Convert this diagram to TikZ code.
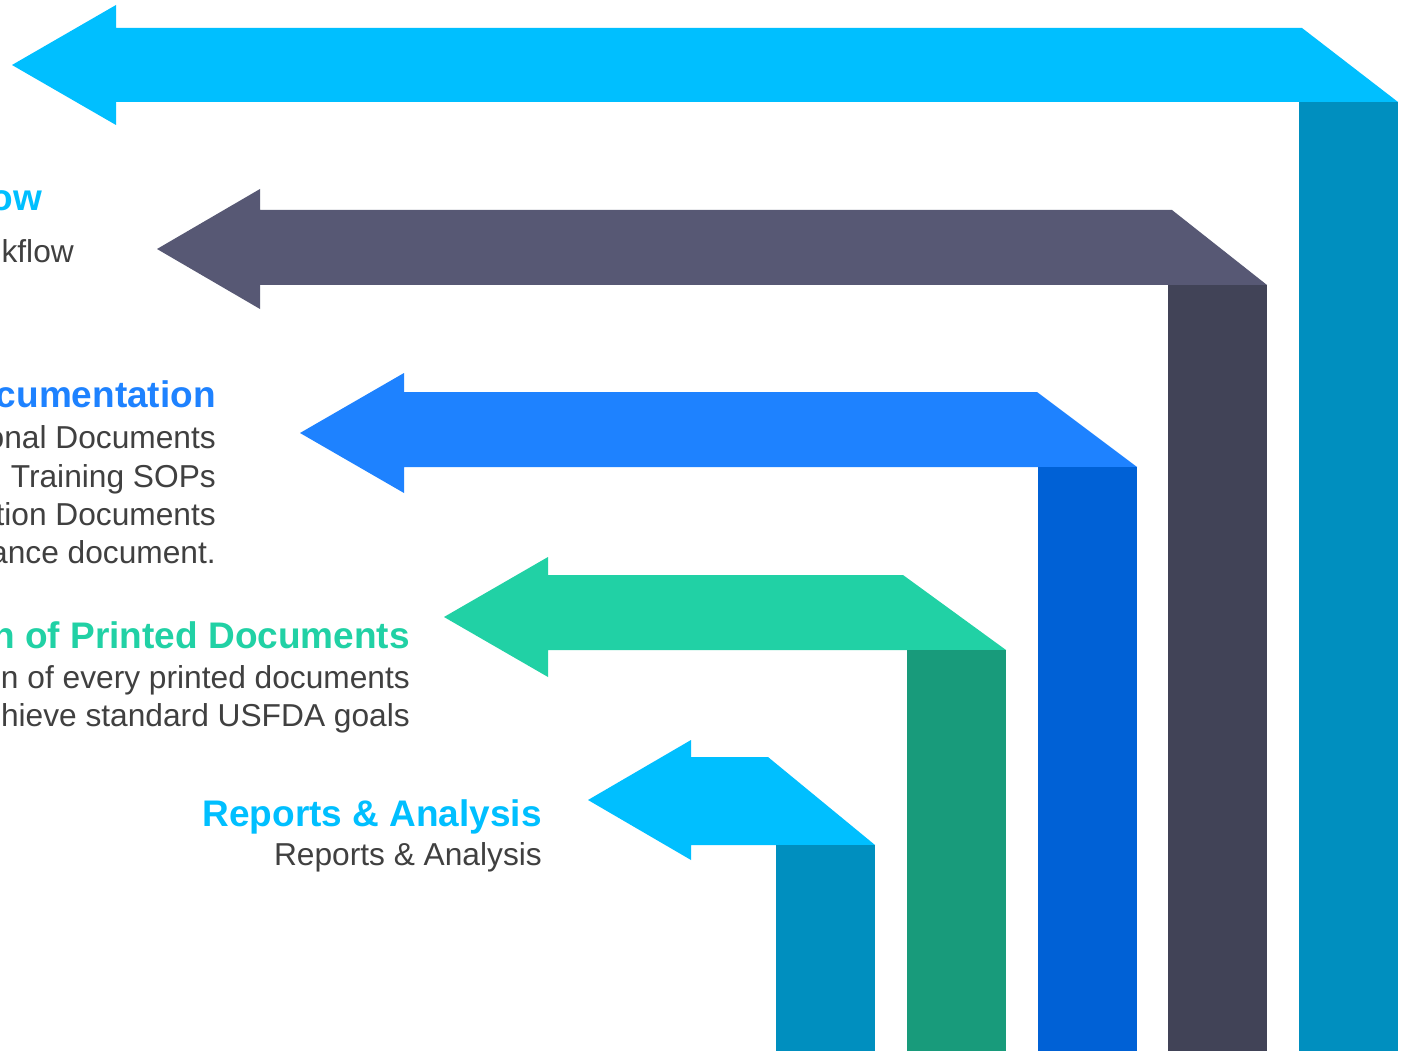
\documentclass[tikz,border=0pt]{standalone}
\usepackage{fontspec}
\setmainfont{Liberation Sans}
\definecolor{cyanA}{HTML}{00BFFF}
\definecolor{cyanB}{HTML}{008FBF}
\definecolor{slateA}{HTML}{575874}
\definecolor{slateB}{HTML}{414357}
\definecolor{blueA}{HTML}{1E82FF}
\definecolor{blueB}{HTML}{0061D6}
\definecolor{greenA}{HTML}{21D1A5}
\definecolor{greenB}{HTML}{189B7B}
\definecolor{txtgray}{HTML}{404040}
\tikzset{
  ttl/.style={anchor=base east, inner sep=0pt, font=\fontsize{37}{41}\selectfont\bfseries},
  bdy/.style={anchor=base east, inner sep=0pt, text=txtgray, font=\fontsize{31.7}{36}\selectfont},
}
\begin{document}
\begin{tikzpicture}[x=1pt,y=-1pt]
\useasboundingbox (0,0) rectangle (1409,1051);
\clip (0,0) rectangle (1409,1051);
\fill[white] (0,0) rectangle (1409,1051);
% tip x, tip y, head base x, head top, head bottom, shaft top, shaft bottom, corner x, bar left, bar right, colour, bar colour
\foreach \tx/\ty/\hb/\ht/\hbot/\st/\sb/\cx/\bl/\br/\ca/\cb in {
  12/65/116/5/125/28/102/1302/1299/1398/cyanA/cyanB,
  157/249/260/189/309/210/285/1172/1168/1267/slateA/slateB,
  300/433/404/373/493/392/467/1037/1038/1137/blueA/blueB,
  444/617/548/557/677/575/650/903/907/1006/greenA/greenB,
  588/800/691/740/860/757/845/768/776/875/cyanA/cyanB}{
  \fill[\ca] (\tx,\ty) -- (\hb,\ht) -- (\hb,\st) -- (\cx,\st) -- (\br,\sb)
     -- (\hb,\sb) -- (\hb,\hbot) -- cycle;
  \fill[\cb] (\bl,\sb) rectangle (\br,1051);
}
% texts
\node[ttl, text=cyanA] (t2) at (42,211) {ow};
\node[bdy] (b2) at (74,263) {kflow};
\node[ttl, text=blueA] (t3) at (216,407) {cumentation};
\node[bdy] (b3a) at (216,448) {onal Documents};
\node[bdy] (b3b) at (216,487) {Training SOPs};
\node[bdy] (b3c) at (216,525) {tion Documents};
\node[bdy] (b3d) at (216,563) {ance document.};
\node[ttl, text=greenA] (t4) at (410,648) {n of Printed Documents};
\node[bdy] (b4a) at (410,688) {n of every printed documents};
\node[bdy] (b4b) at (410,726) {hieve standard USFDA goals};
\node[ttl, text=cyanA] (t5) at (542,826) {Reports \& Analysis};
\node[bdy] (b5) at (542,865) {Reports \& Analysis};
\end{tikzpicture}
\end{document}
